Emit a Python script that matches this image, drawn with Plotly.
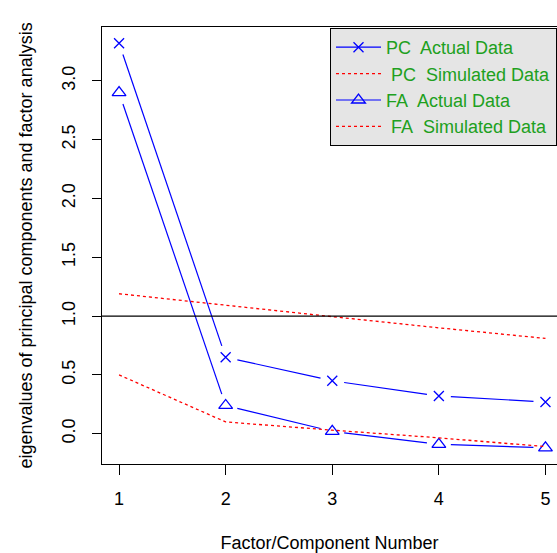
import math
import plotly.graph_objects as go

factors = [1, 2, 3, 4, 5]
pc_actual = [3.32, 0.65, 0.45, 0.32, 0.27]
pc_sim = [1.19, 1.09, 0.995, 0.90, 0.81]
fa_actual = [2.90, 0.24, 0.02, -0.09, -0.12]
fa_sim = [0.50, 0.10, 0.03, -0.035, -0.11]
x_ticks = [1, 2, 3, 4, 5]
y_ticks = [0.0, 0.5, 1.0, 1.5, 2.0, 2.5, 3.0]
y_tick_labels = ["0.0", "0.5", "1.0", "1.5", "2.0", "2.5", "3.0"]

BLUE = "#0000ff"
RED = "#ff0000"
GREEN = "#20a020"
FONT = "Liberation Sans, Arial, sans-serif"
FS = 18

W, H = 557, 553
ML, MR, MT, MB = 102, 0, 27, 89
PW, PH = W - ML - MR, H - MT - MB
XR = [0.84, 0.84 + PW / 106.6]
YR = [-0.2576, 3.4576]
GAP = 12  # px gap around points, like R type="b"


def gapped(xs, ys):
    """Split a polyline into segments trimmed around each point (R type='b')."""
    sx = PW / (XR[1] - XR[0])
    sy = PH / (YR[1] - YR[0])
    ox, oy = [], []
    for i in range(len(xs) - 1):
        dx = (xs[i + 1] - xs[i]) * sx
        dy = (ys[i + 1] - ys[i]) * sy
        L = math.hypot(dx, dy)
        if L <= 2 * GAP:
            continue
        f = GAP / L
        ox += [xs[i] + f * (xs[i + 1] - xs[i]), xs[i + 1] - f * (xs[i + 1] - xs[i]), None]
        oy += [ys[i] + f * (ys[i + 1] - ys[i]), ys[i + 1] - f * (ys[i + 1] - ys[i]), None]
    return ox, oy


pc_marker = dict(symbol="x-thin-open", size=10, color=BLUE, line=dict(color=BLUE, width=1.3))
fa_marker = dict(symbol="triangle-up-open", size=12, color=BLUE, line=dict(color=BLUE, width=1.3))
blue_line = dict(color=BLUE, width=1.2)
red_line = dict(color=RED, width=1.3, dash="dot")

fig = go.Figure()

# legend entries
fig.add_trace(go.Scatter(x=[None], y=[None], mode="lines+markers", name="PC\u00a0 Actual Data",
                         line=blue_line, marker=pc_marker))
fig.add_trace(go.Scatter(x=[None], y=[None], mode="lines", name="\u00a0PC\u00a0 Simulated Data",
                         line=red_line))
fig.add_trace(go.Scatter(x=[None], y=[None], mode="lines+markers", name="FA\u00a0 Actual Data",
                         line=blue_line, marker=fa_marker))
fig.add_trace(go.Scatter(x=[None], y=[None], mode="lines", name="\u00a0FA\u00a0 Simulated Data",
                         line=red_line))

# actual data: gapped lines + markers
for ys, mk in ((pc_actual, pc_marker), (fa_actual, fa_marker)):
    gx, gy = gapped(factors, ys)
    fig.add_trace(go.Scatter(x=gx, y=gy, mode="lines", showlegend=False, hoverinfo="skip",
                             connectgaps=False, line=dict(color=BLUE, width=1.2, simplify=False)))
    fig.add_trace(go.Scatter(x=factors, y=ys, mode="markers", showlegend=False, marker=mk))

# simulated data: dotted lines
for ys in (pc_sim, fa_sim):
    fig.add_trace(go.Scatter(x=factors, y=ys, mode="lines", showlegend=False, line=red_line))

fig.add_hline(y=1.0, line=dict(color="black", width=1.2), layer="above")

fig.update_layout(
    width=W, height=H,
    margin=dict(l=ML, r=MR, t=MT, b=MB),
    paper_bgcolor="white", plot_bgcolor="white",
    font=dict(family=FONT, size=FS, color="black"),
    showlegend=True,
    legend=dict(x=(330 - ML) / PW, y=1 - 1 / PH, xanchor="left", yanchor="top",
                bgcolor="#e5e5e5", bordercolor="black", borderwidth=1,
                font=dict(family=FONT, size=FS, color=GREEN),
                itemwidth=45,
                traceorder="normal", tracegroupgap=0),
    xaxis=dict(range=XR, tickmode="array", tickvals=x_ticks,
               ticks="outside", ticklen=10, tickcolor="black", tickwidth=1,
               ticklabelstandoff=8,
               showline=True, linecolor="black", linewidth=1.2, mirror=True,
               showgrid=False, zeroline=False,
               title=dict(text="Factor/Component Number", standoff=32, font=dict(size=FS)),
               tickfont=dict(size=FS)),
    yaxis=dict(range=YR, tickmode="array", tickvals=y_ticks, ticktext=y_tick_labels,
               ticks="outside", ticklen=9, tickcolor="black", tickwidth=1,
               ticklabelstandoff=10,
               showline=True, linecolor="black", linewidth=1.2, mirror=False,
               showgrid=False, zeroline=False, tickangle=-90,
               title=dict(text="eigenvalues of principal components and factor analysis",
                          standoff=21, font=dict(size=FS)),
               tickfont=dict(size=FS)),
)

fig.write_html("out.html")
